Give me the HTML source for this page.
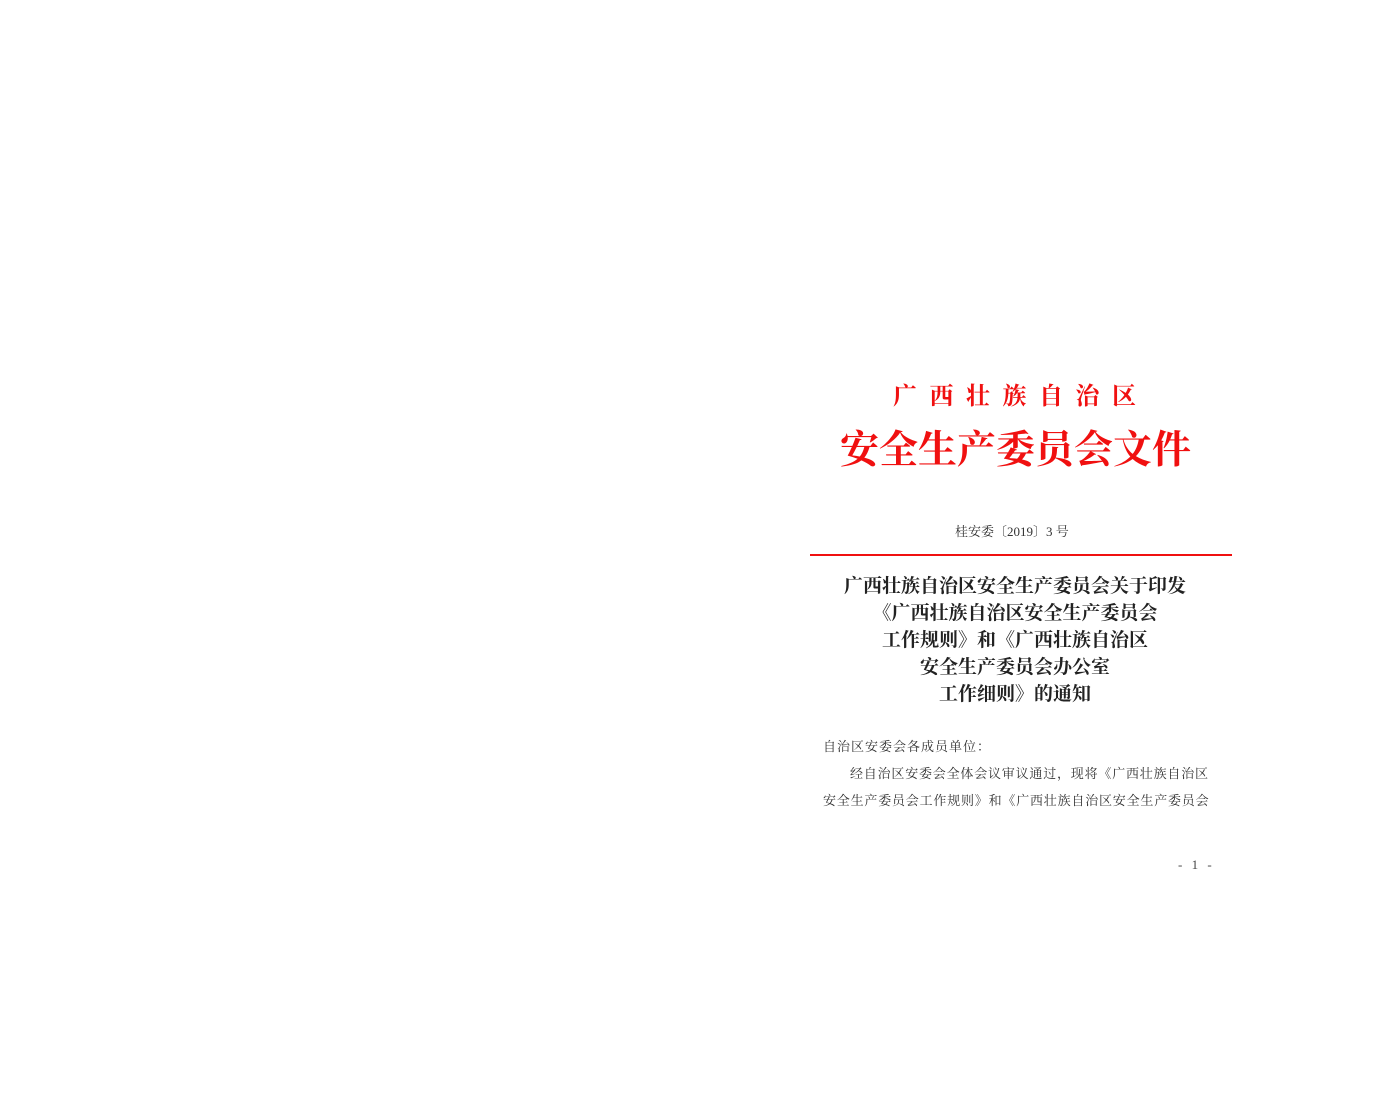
<!DOCTYPE html>
<html><head><meta charset="utf-8">
<style>
html,body{margin:0;padding:0;background:#fff;}
body{width:1384px;height:1098px;position:relative;overflow:hidden;font-family:"Liberation Serif","Noto Serif CJK SC",serif;}
.a{position:absolute;white-space:nowrap;line-height:1;}
.red{color:#f01010;}
</style></head><body>
<div class="a red" style="left:893px;top:385px;font-size:24px;font-weight:bold;letter-spacing:12.5px;">广西壮族自治区</div>
<div class="a red" style="left:840px;top:431px;font-size:39px;font-weight:bold;letter-spacing:0px;">安全生产委员会文件</div>
<div class="a" style="left:955px;top:525px;font-size:13px;color:#333;">桂安委〔2019〕3 号</div>
<div class="a" style="left:810px;top:554px;width:422px;height:2px;background:#f01010;"></div>
<div style="position:absolute;left:815px;top:573px;width:400px;text-align:center;font-size:19px;font-weight:bold;line-height:27px;color:#222;">
广西壮族自治区安全生产委员会关于印发<br>《广西壮族自治区安全生产委员会<br>工作规则》和《广西壮族自治区<br>安全生产委员会办公室<br>工作细则》的通知</div>
<div class="a" style="left:823px;top:740px;font-size:13px;letter-spacing:1.0px;color:#333;">自治区安委会各成员单位：</div>
<div class="a" style="left:850px;top:767px;font-size:13px;letter-spacing:0.8px;color:#333;">经自治区安委会全体会议审议通过，现将《广西壮族自治区</div>
<div class="a" style="left:823px;top:794px;font-size:13px;letter-spacing:0.8px;color:#333;">安全生产委员会工作规则》和《广西壮族自治区安全生产委员会</div>
<div class="a" style="left:1178px;top:858px;font-size:13px;letter-spacing:3px;color:#444;">- 1 -</div>
</body></html>
